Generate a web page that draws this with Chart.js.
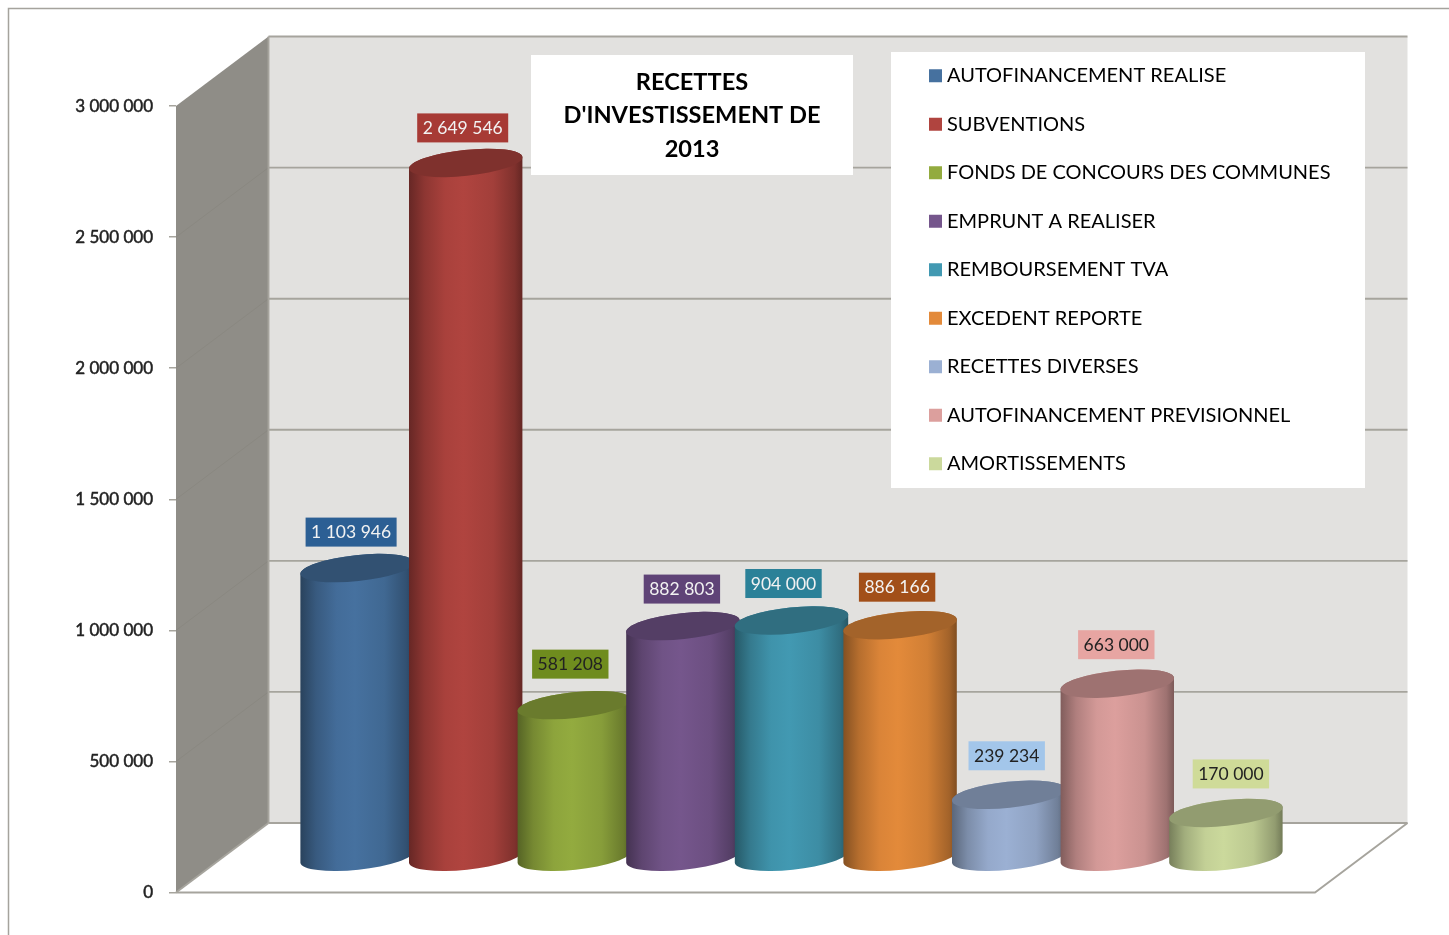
<!DOCTYPE html>
<html><head><meta charset="utf-8">
<style>html,body{margin:0;padding:0;background:#fff;overflow:hidden}
#w{position:absolute;left:0;top:0;width:1449px;height:935px}
canvas{filter:blur(0.6px)}</style>
<script src="https://cdn.jsdelivr.net/npm/chart.js@4/dist/chart.umd.min.js"></script>
</head><body><div id="w"><canvas id="c" width="1449" height="935"></canvas></div>
<script>
const categories = ["AUTOFINANCEMENT REALISE","SUBVENTIONS","FONDS DE CONCOURS DES COMMUNES","EMPRUNT A REALISER","REMBOURSEMENT TVA","EXCEDENT REPORTE","RECETTES DIVERSES","AUTOFINANCEMENT PREVISIONNEL","AMORTISSEMENTS"];
const values = [1103946,2649546,581208,882803,904000,886166,239234,663000,170000];
const barColors = ["#46719f","#b0443f","#93ab3f","#75568c","#4299b2","#e38a3a","#9bb0d3","#dc9f9d","#cbd99c"];
const labelColors = ["#2c5f94","#a73a35","#6f8c1e","#5f4377","#2b8198","#a24f19","#a3c6ea","#e7a5a2","#cfdb98"];
const labelTextColors = ["#f2f2f2","#f2f2f2","#222","#f2f2f2","#f2f2f2","#f2f2f2","#222","#222","#222"];
const labelNudgeX = [-6,-3,-4,-1,-8,-3,-2,-1,5];
const labelNudgeY = [-36,-35,-41,-37,-37,-38,-39,-39,-39];
const titleLines = ["RECETTES","D'INVESTISSEMENT DE","2013"];
const yTicks = [0,500000,1000000,1500000,2000000,2500000,3000000];

const FONT = "Lato, 'Open Sans', sans-serif";
const DX = 92.5, DY = -69.5;        // depth of the 3D box
const BX = 46, BY = -35;            // cylinders sit half way in the depth
const fmt = v => String(Math.round(v)).replace(/\B(?=(\d{3})+$)/g, " ");
function shade(hex, f){
  const n = parseInt(hex.slice(1),16);
  const c = s => Math.round(((n>>s)&255)*f);
  return `rgb(${c(16)},${c(8)},${c(0)})`;
}
// every bar of the library is drawn as a cylinder, from its own x / y / base / width
Chart.BarElement.prototype.draw = function(ctx){
  const col = this.options.backgroundColor;
  const cx = this.x + BX, top = this.y + BY, bot = this.base + BY;
  const rx = this.width/2, ry = 13, rot = -6*Math.PI/180;
  ctx.save();
  const g = ctx.createLinearGradient(cx-rx,0,cx+rx,0);
  g.addColorStop(0, shade(col,.58));
  g.addColorStop(.14, shade(col,.8));
  g.addColorStop(.32, shade(col,.96));
  g.addColorStop(.48, shade(col,1));
  g.addColorStop(.74, shade(col,.92));
  g.addColorStop(.93, shade(col,.72));
  g.addColorStop(1, shade(col,.56));
  ctx.fillStyle = g;
  ctx.beginPath();
  ctx.ellipse(cx,top,rx,ry,rot,Math.PI,0,false);
  ctx.ellipse(cx,bot,rx,ry,rot,0,Math.PI,false);
  ctx.closePath();
  ctx.fill();
  ctx.fillStyle = shade(col,.72);
  ctx.beginPath();
  ctx.ellipse(cx,top,rx,ry,rot,0,Math.PI*2);
  ctx.fill();
  ctx.restore();
};
const box3d = {
  id:'box3d',
  afterLayout(chart){
    const t = chart.titleBlock, l = chart.legend;
    t.left = 531; t.right = 853; t.top = 65.6; t.bottom = 170; t.width = 322;
    l.left = 934-28.5; l.right = 1449; l.top = 65.7-28.5; l.bottom = 935; l.width = l.right-l.left;
  },
  beforeDraw(chart){
    const ctx = chart.ctx, y = chart.scales.y, a = chart.chartArea;
    const L=a.left, R=a.right, B=a.bottom, T=a.top, line='#a6a49d';
    ctx.save();
    // frame of the picture
    ctx.strokeStyle='#a5a39d'; ctx.lineWidth=1.5;
    ctx.beginPath(); ctx.moveTo(8.5,935); ctx.lineTo(8.5,8.5); ctx.lineTo(1449,8.5); ctx.stroke();
    // back wall
    ctx.fillStyle='#e2e1df'; ctx.fillRect(L+DX,T+DY,R-L,B-T);
    // side wall
    ctx.fillStyle='#8f8d87';
    ctx.beginPath(); ctx.moveTo(L,B); ctx.lineTo(L,T); ctx.lineTo(L+DX,T+DY); ctx.lineTo(L+DX,B+DY); ctx.closePath(); ctx.fill();
    // floor
    ctx.fillStyle='#fff';
    ctx.beginPath(); ctx.moveTo(L,B); ctx.lineTo(L+DX,B+DY); ctx.lineTo(R+DX,B+DY); ctx.lineTo(R,B); ctx.closePath(); ctx.fill();
    // grid
    ctx.lineWidth=1.9;
    yTicks.forEach(v=>{
      const p = y.getPixelForValue(v);
      ctx.strokeStyle=line;
      ctx.beginPath(); ctx.moveTo(L+DX,p+DY); ctx.lineTo(R+DX,p+DY); ctx.stroke();
      if(v>0 && v<3000000){
        ctx.strokeStyle='#8a8881'; ctx.lineWidth=1;
        ctx.beginPath(); ctx.moveTo(L,p); ctx.lineTo(L+DX,p+DY); ctx.stroke(); ctx.lineWidth=1.9;
      }
    });
    ctx.strokeStyle=line;
    ctx.beginPath(); ctx.moveTo(L+DX,T+DY); ctx.lineTo(L+DX,B+DY); ctx.stroke();
    ctx.beginPath(); ctx.moveTo(L,B); ctx.lineTo(R,B); ctx.lineTo(R+DX,B+DY); ctx.stroke();
    ctx.beginPath(); ctx.moveTo(L,B); ctx.lineTo(L+DX,B+DY); ctx.stroke();
    // white boxes behind title and legend
    ctx.fillStyle='#fff';
    ctx.fillRect(531,55,322,120);
    ctx.fillRect(891,52,474,436);
    ctx.restore();
  },
  afterDatasetsDraw(chart){
    const ctx = chart.ctx, meta = chart.getDatasetMeta(0);
    ctx.save();
    ctx.font = "17.5px "+FONT; ctx.textAlign='center'; ctx.textBaseline='middle';
    meta.data.forEach((el,i)=>{
      const s = fmt(values[i]);
      const w = ctx.measureText(s).width + 11, h = 29;
      const cx = el.x+BX+labelNudgeX[i], cy = el.y+BY+labelNudgeY[i];
      ctx.fillStyle = labelColors[i];
      ctx.fillRect(cx-w/2,cy-h/2,w,h);
      ctx.fillStyle = labelTextColors[i];
      ctx.fillText(s,cx,cy+.5);
    });
    ctx.restore();
  }
};
new Chart(document.getElementById('c'),{
  type:'bar',
  data:{labels:categories,datasets:[{
    label:'RECETTES',
    data:values.map((v,i)=>({x:i,y:v})),
    backgroundColor:barColors,
    categoryPercentage:1,barPercentage:1.05,clip:false
  }]},
  plugins:[box3d],
  options:{
    responsive:false,animation:false,
    layout:{padding:{left:0,top:0,right:134,bottom:42.5}},
    scales:{
      x:{type:'linear',display:false,offset:false,min:-1.244,max:9.244,grid:{display:false}},
      y:{min:0,max:3000000,
        afterFit(s){s.width=176;},
        border:{display:false},
        grid:{drawOnChartArea:false,drawTicks:true,tickLength:7,color:'#a6a49d',lineWidth:1.5},
        ticks:{stepSize:500000,padding:16,color:'#222',textStrokeColor:'#222',textStrokeWidth:0.5,font:{family:FONT,size:17},callback:v=>fmt(v)}
      }
    },
    plugins:{
      tooltip:{enabled:false},
      title:{display:true,text:titleLines,color:'#000',padding:{top:0,bottom:5.5},
        font:{family:FONT,size:23.6,weight:'bold',lineHeight:1.42}},
      legend:{display:true,position:'chartArea',align:'start',
        labels:{boxWidth:3,boxHeight:13,usePointStyle:true,padding:28.5,color:'#000',
          font:{family:FONT,size:20},
          generateLabels:()=>categories.map((c,i)=>({text:c,fillStyle:barColors[i],strokeStyle:barColors[i],lineWidth:0,pointStyle:'rect',index:i,datasetIndex:0}))}}
    }
  }
});
</script></body></html>
